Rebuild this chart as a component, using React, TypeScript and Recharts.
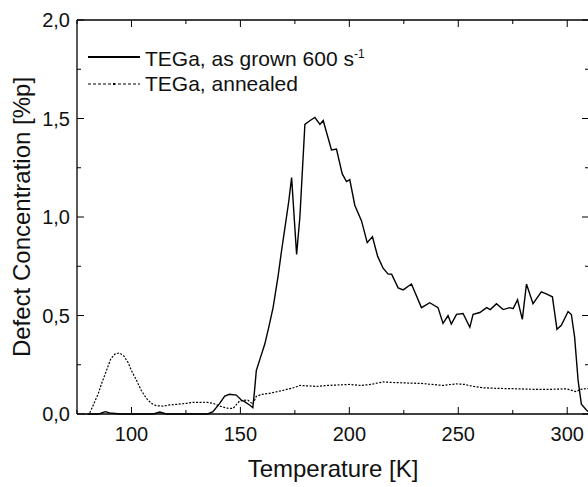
import { LineChart, Line, XAxis, YAxis, ReferenceLine } from "recharts";

// as grown 600 s-1
const grownT = [
  80, 85, 88, 90, 95, 105, 110, 113, 116, 135, 137.4, 140.5, 142.8, 145, 148.1, 150.4, 151.9, 154.2,
  155.7, 156.5, 157.3, 159, 161.2, 163, 165, 167.3, 168.9, 170.9, 172.2, 173.5, 175.8, 177.3, 179.6,
  182, 184.2, 186.5, 188, 191.8, 194.1, 196.7, 198.7, 200.2, 202.5, 205.6, 208.2, 210.6, 213, 215.5,
  217.8, 219.4, 222.4, 224.7, 228.5, 233.1, 236.9, 240.7, 243, 245.3, 246.8, 249.2, 252.2, 255.3,
  256.8, 259.9, 263, 264.7, 267.5, 270.6, 273.6, 275.2, 277.2, 279.4, 281.3, 284.3, 288.1, 290.4,
  293.2, 295.3, 297.3, 300.4, 301.9, 303.4, 305, 306.5, 308.8, 310,
];
const grownV = [
  0, 0, 0.012, 0.005, 0, 0, 0, 0.01, 0, 0, 0.012, 0.054, 0.091, 0.1, 0.096, 0.071, 0.063, 0.046,
  0.032, 0.12, 0.22, 0.28, 0.355, 0.44, 0.54, 0.7, 0.83, 0.98, 1.08, 1.2, 0.81, 1.0, 1.47,
  1.49, 1.505, 1.47, 1.49, 1.34, 1.345, 1.22, 1.18, 1.19, 1.06, 0.98, 0.87, 0.9, 0.8, 0.74,
  0.71, 0.71, 0.64, 0.63, 0.66, 0.54, 0.565, 0.54, 0.46, 0.5, 0.456, 0.506, 0.51, 0.44,
  0.506, 0.515, 0.54, 0.53, 0.56, 0.53, 0.54, 0.535, 0.58, 0.48, 0.66, 0.56, 0.62, 0.61,
  0.595, 0.43, 0.45, 0.52, 0.505, 0.39, 0.17, 0.05, 0.02, 0.01,
];

// annealed
const annealedT = [
  78, 80.6, 82.5, 84.8, 86.3, 88.5, 90.5, 92.5, 94.5, 96.5, 98.5, 100, 102.2, 104.5, 106.8, 109.1,
  111.4, 114.5, 117.6, 120.6, 125.2, 128.3, 132.8, 134.4, 137.4, 140.5, 143.5, 146.6, 149.6, 153.4,
  155.7, 157.3, 160, 163.4, 169.5, 175, 177.3, 185, 190, 200, 205, 210, 215.5, 220, 225, 233, 238,
  243, 249, 253, 257, 261.4, 268, 276.7, 285, 292, 299.6, 304.2, 306, 310,
];
const annealedV = [
  0, 0, 0.046, 0.105, 0.155, 0.22, 0.28, 0.305, 0.31, 0.295, 0.26, 0.22, 0.173, 0.12, 0.08, 0.054,
  0.042, 0.04, 0.046, 0.049, 0.054, 0.059, 0.059, 0.06, 0.054, 0.04, 0.03, 0.028, 0.066, 0.071,
  0.05, 0.09, 0.1, 0.105, 0.12, 0.135, 0.145, 0.14, 0.145, 0.15, 0.145, 0.15, 0.163, 0.16, 0.158, 0.155, 0.15,
  0.145, 0.153, 0.15, 0.14, 0.133, 0.13, 0.128, 0.125, 0.125, 0.128, 0.113, 0.125, 0.13,
];

const xTicks = [75, 100, 125, 150, 175, 200, 225, 250, 275, 300];
const yTicks = [0, 0.25, 0.5, 0.75, 1, 1.25, 1.5, 1.75, 2];

const grown = grownT.map((t, i) => ({ t, v: grownV[i] }));
const annealed = annealedT.map((t, i) => ({ t, v: annealedV[i] }));

const FONT = "'Liberation Sans', Arial, sans-serif";
const PLOT_W = 512;
const PLOT_H = 394;

function XTick({ x, y, payload }: any) {
  const major = payload.value % 50 === 0;
  const len = major ? 7 : 4;
  return (
    <g>
      <line x1={x} x2={x} y1={y} y2={y - len} stroke="#000" strokeWidth={1} />
      <line x1={x} x2={x} y1={y - PLOT_H} y2={y - PLOT_H + len} stroke="#000" strokeWidth={1} />
      {major && (
        <text x={x} y={y + 27} textAnchor="middle" fontSize={20} fontFamily={FONT} fill="#111">
          {payload.value}
        </text>
      )}
    </g>
  );
}

function YTick({ x, y, payload }: any) {
  const major = Math.abs(payload.value * 2 - Math.round(payload.value * 2)) < 1e-6;
  const len = major ? 7 : 4;
  return (
    <g>
      <line x1={x} x2={x + len} y1={y} y2={y} stroke="#000" strokeWidth={1} />
      <line x1={x + PLOT_W} x2={x + PLOT_W - len} y1={y} y2={y} stroke="#000" strokeWidth={1} />
      {major && (
        <text x={x - 7} y={y + 7} textAnchor="end" fontSize={20} fontFamily={FONT} fill="#111">
          {payload.value.toFixed(1).replace(".", ",")}
        </text>
      )}
    </g>
  );
}

export default function App() {
  return (
    <div style={{ position: "absolute", left: 0, top: 0, width: 588, height: 487, overflow: "hidden", background: "#fff" }}>
      <LineChart width={600} height={487} margin={{ top: 20, right: 11, bottom: 0, left: 0 }}>
        <XAxis
          dataKey="t"
          type="number"
          domain={[75, 310]}
          ticks={xTicks}
          allowDataOverflow
          height={73}
          tickSize={0}
          tickMargin={0}
          tickLine={false}
          tick={<XTick />}
          axisLine={{ stroke: "#000", strokeWidth: 1.3 }}
          label={{ value: "Temperature [K]", position: "insideBottom", offset: 10, style: { fontSize: 24, fontFamily: FONT, fill: "#111" } }}
        />
        <YAxis
          type="number"
          domain={[0, 2]}
          ticks={yTicks}
          width={77}
          tickSize={0}
          tickMargin={0}
          tickLine={false}
          tick={<YTick />}
          axisLine={{ stroke: "#000", strokeWidth: 1.3 }}
          label={{ value: "Defect Concentration [%p]", angle: -90, position: "insideLeft", offset: 21, style: { textAnchor: "middle", fontSize: 24, fontFamily: FONT, fill: "#111" } }}
        />
        <ReferenceLine y={2} stroke="#000" strokeWidth={1.3} />
        <ReferenceLine x={310} stroke="#000" strokeWidth={1.3} />
        <Line data={annealed} dataKey="v" stroke="#000" strokeWidth={1.2} strokeDasharray="2 1.5" dot={false} isAnimationActive={false} />
        <Line data={grown} dataKey="v" stroke="#000" strokeWidth={1.4} dot={false} isAnimationActive={false} />
      </LineChart>
      <div style={{ position: "absolute", left: 86, top: 42, fontFamily: FONT, fontSize: 21, color: "#111", lineHeight: "25px" }}>
        <div style={{ display: "flex", alignItems: "center" }}>
          <svg width={56} height={10}>
            <line x1={2} x2={54} y1={5} y2={5} stroke="#000" strokeWidth={2} />
          </svg>
          <span style={{ marginLeft: 3 }}>
            TEGa, as grown 600 s<sup style={{ fontSize: 12 }}>-1</sup>
          </span>
        </div>
        <div style={{ display: "flex", alignItems: "center" }}>
          <svg width={56} height={10}>
            <line x1={2} x2={54} y1={5} y2={5} stroke="#000" strokeWidth={1} strokeDasharray="3 2" />
            <rect x={27} y={4} width={2} height={2} fill="#000" />
          </svg>
          <span style={{ marginLeft: 3 }}>TEGa, annealed</span>
        </div>
      </div>
    </div>
  );
}
